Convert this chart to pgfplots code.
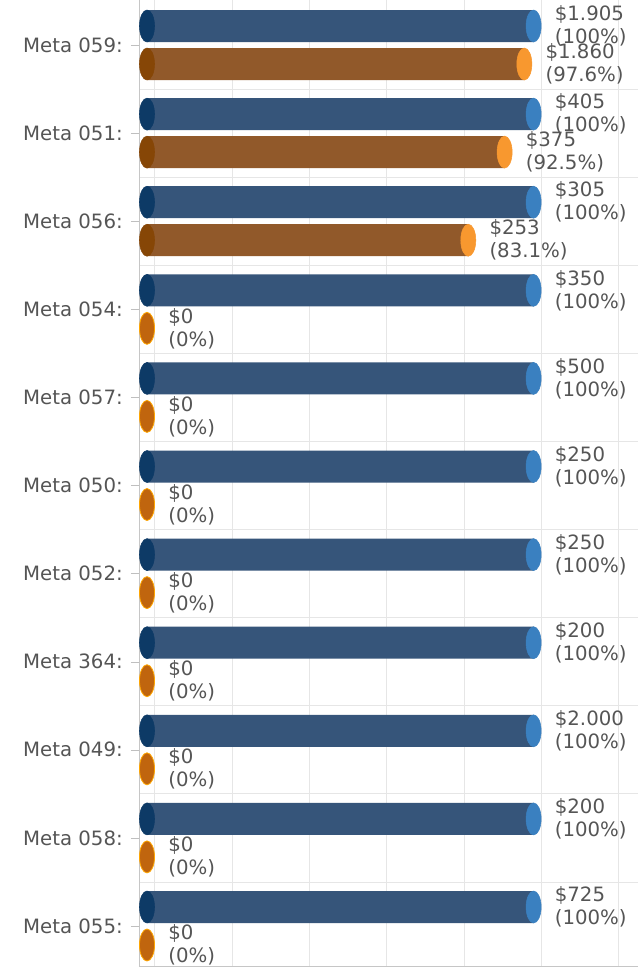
\documentclass[border=0pt]{standalone}
\usepackage{fontspec}
\setmainfont{DejaVu Sans}
\usepackage{pgfplots}
\usepackage{pgfplotstable}
\pgfplotsset{compat=1.18}

\definecolor{txt}{HTML}{555555}
\definecolor{bBody}{HTML}{36557A}
\definecolor{bLeft}{HTML}{0D3A66}
\definecolor{bRight}{HTML}{3A80C0}
\definecolor{oBody}{HTML}{91592A}
\definecolor{oLeft}{HTML}{864606}
\definecolor{oRight}{HTML}{F8982F}
\definecolor{oZero}{HTML}{C0650E}
\definecolor{gridc}{HTML}{E6E6E6}

% y = category index - 0.2157 (blue) / + 0.2157 (orange)
\pgfplotstableread{
y pct amt
-0.2157 100 1.905
0.7843 100 405
1.7843 100 305
2.7843 100 350
3.7843 100 500
4.7843 100 250
5.7843 100 250
6.7843 100 200
7.7843 100 2.000
8.7843 100 200
9.7843 100 725
}\bluedata

\pgfplotstableread{
y pct amt
0.2157 97.6 1.860
1.2157 92.5 375
2.2157 83.1 253
}\orangedata

\pgfplotstableread{
y pct amt
3.2157 0 0
4.2157 0 0
5.2157 0 0
6.2157 0 0
7.2157 0 0
8.2157 0 0
9.2157 0 0
10.2157 0 0
}\zerodata

\begin{document}
\begin{tikzpicture}
\path[use as bounding box] (-104.25pt,-2.25pt) rectangle (374.25pt,724.5pt);
\begin{axis}[
  at={(0pt,0pt)}, anchor=south west,
  scale only axis,
  width=374.25pt, height=724.5pt,
  xmin=-2.07, xmax=127,
  ymin=-0.511, ymax=10.454,
  y dir=reverse,
  clip=false,
  axis x line*=bottom, axis y line*=left,
  axis line style={draw=gray!45, -},
  xtick={2,22,42,62,82,102,122},
  xticklabels={},
  xtick style={draw=none},
  xmajorgrids,
  major grid style={draw=gridc, line width=0.6pt},
  ytick={0,...,10},
  yticklabels={Meta 059:,Meta 051:,Meta 056:,Meta 054:,Meta 057:,Meta 050:,Meta 052:,Meta 364:,Meta 049:,Meta 058:,Meta 055:},
  minor ytick={0.5,1.5,...,9.5},
  yminorgrids,
  minor grid style={draw=gridc, line width=0.6pt},
  minor tick length=0pt,
  tick align=outside,
  major tick length=6pt,
  ytick style={draw=gray!50},
  yticklabel style={font=\fontsize{14.8}{17}\selectfont, text=txt, inner sep=0pt, xshift=-6pt},
  every node near coord/.style={font=\fontsize{14.8}{17.25}\selectfont, text=txt, anchor=west, align=left, inner sep=0pt, xshift=15.75pt},
  lbl/.style={
    point meta=explicit symbolic,
    visualization depends on={\thisrow{pct} \as \pl},
    nodes near coords={\$\pgfplotspointmeta\\(\pgfmathprintnumber[fixed,precision=1,assume math mode=true]{\pl}\%)}},
]
% blue bars
\addplot[xbar, bar shift=0pt, bar width=24pt, draw=none, fill=bBody]
  table[x=pct, y=y] {\bluedata};
\addplot[only marks, mark=*, mark size=12pt, color=bLeft, mark options={xscale=0.47}]
  table[x expr=0, y=y] {\bluedata};
\addplot[only marks, mark=*, mark size=12pt, color=bRight, mark options={xscale=0.47}, lbl]
  table[x=pct, y=y, meta=amt] {\bluedata};
% orange bars
\addplot[xbar, bar shift=0pt, bar width=24pt, draw=none, fill=oBody]
  table[x=pct, y=y] {\orangedata};
\addplot[only marks, mark=*, mark size=12pt, color=oLeft, mark options={xscale=0.47}]
  table[x expr=0, y=y] {\orangedata};
\addplot[only marks, mark=*, mark size=12pt, color=oRight, mark options={xscale=0.47}, lbl]
  table[x=pct, y=y, meta=amt] {\orangedata};
% zero orange
\addplot[only marks, mark=*, mark size=12pt, color=oZero, mark options={xscale=0.47, draw=orange!70!yellow, line width=0.6pt}, lbl]
  table[x=pct, y=y, meta=amt] {\zerodata};
\end{axis}
\end{tikzpicture}
\end{document}
